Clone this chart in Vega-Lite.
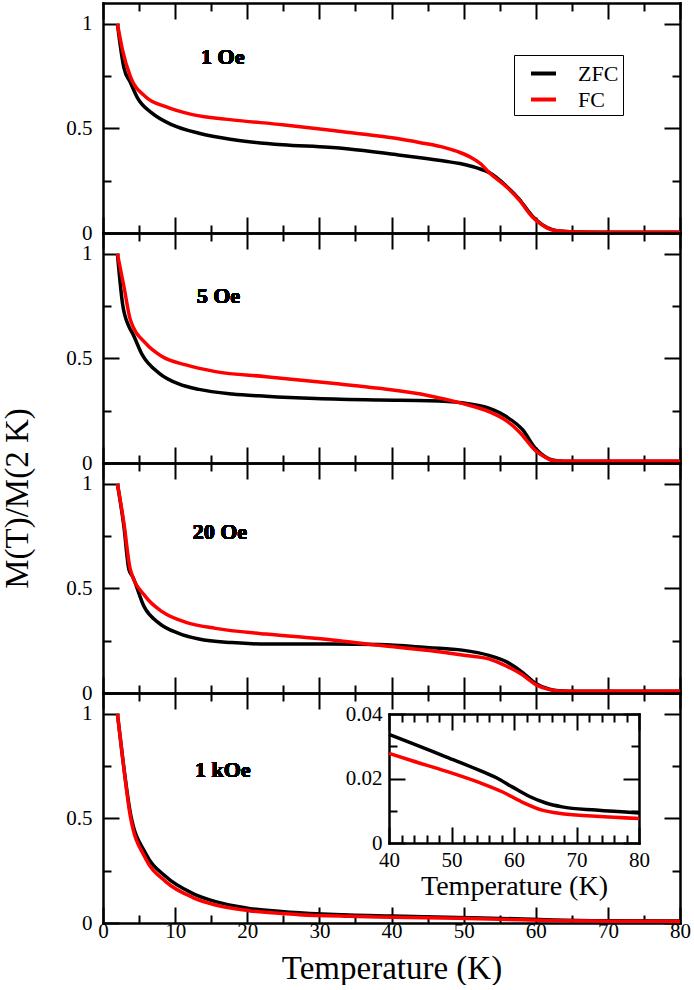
{
  "$schema": "https://vega.github.io/schema/vega-lite/v6.json",
  "padding": {"left": 0, "top": 2, "right": 0, "bottom": 0},
  "datasets": {
    "p1": [
      {"T": 2, "M": 1.0, "s": "ZFC"}, {"T": 2.9, "M": 0.79, "s": "ZFC"}, {"T": 3.8, "M": 0.72, "s": "ZFC"},
      {"T": 4.8, "M": 0.645, "s": "ZFC"}, {"T": 6.8, "M": 0.573, "s": "ZFC"}, {"T": 9.6, "M": 0.517, "s": "ZFC"},
      {"T": 13.3, "M": 0.477, "s": "ZFC"}, {"T": 17.9, "M": 0.447, "s": "ZFC"}, {"T": 24.9, "M": 0.422, "s": "ZFC"},
      {"T": 31.3, "M": 0.41, "s": "ZFC"}, {"T": 34.1, "M": 0.402, "s": "ZFC"}, {"T": 40.6, "M": 0.375, "s": "ZFC"},
      {"T": 44, "M": 0.36, "s": "ZFC"}, {"T": 47.5, "M": 0.343, "s": "ZFC"}, {"T": 49.5, "M": 0.332, "s": "ZFC"},
      {"T": 51.2, "M": 0.318, "s": "ZFC"}, {"T": 52.4, "M": 0.305, "s": "ZFC"}, {"T": 53.5, "M": 0.29, "s": "ZFC"},
      {"T": 55.9, "M": 0.225, "s": "ZFC"}, {"T": 57.7, "M": 0.162, "s": "ZFC"}, {"T": 59.5, "M": 0.082, "s": "ZFC"},
      {"T": 60.9, "M": 0.04, "s": "ZFC"}, {"T": 62.3, "M": 0.016, "s": "ZFC"}, {"T": 63.7, "M": 0.008, "s": "ZFC"},
      {"T": 66, "M": 0.005, "s": "ZFC"}, {"T": 70, "M": 0.004, "s": "ZFC"}, {"T": 80, "M": 0.004, "s": "ZFC"},
      {"T": 2, "M": 1.0, "s": "FC"}, {"T": 2.7, "M": 0.876, "s": "FC"}, {"T": 3.8, "M": 0.748, "s": "FC"},
      {"T": 5.9, "M": 0.652, "s": "FC"}, {"T": 8.7, "M": 0.604, "s": "FC"}, {"T": 12.4, "M": 0.566, "s": "FC"},
      {"T": 17.9, "M": 0.541, "s": "FC"}, {"T": 24.9, "M": 0.518, "s": "FC"}, {"T": 31.3, "M": 0.493, "s": "FC"},
      {"T": 34.1, "M": 0.481, "s": "FC"}, {"T": 40.6, "M": 0.453, "s": "FC"}, {"T": 44, "M": 0.432, "s": "FC"},
      {"T": 47.5, "M": 0.407, "s": "FC"}, {"T": 49.5, "M": 0.385, "s": "FC"}, {"T": 51.2, "M": 0.358, "s": "FC"},
      {"T": 52.4, "M": 0.33, "s": "FC"}, {"T": 53.5, "M": 0.29, "s": "FC"}, {"T": 55.9, "M": 0.222, "s": "FC"},
      {"T": 57.7, "M": 0.158, "s": "FC"}, {"T": 59.5, "M": 0.078, "s": "FC"}, {"T": 60.9, "M": 0.038, "s": "FC"},
      {"T": 62.3, "M": 0.014, "s": "FC"}, {"T": 63.7, "M": 0.008, "s": "FC"}, {"T": 66, "M": 0.005, "s": "FC"},
      {"T": 70, "M": 0.004, "s": "FC"}, {"T": 80, "M": 0.004, "s": "FC"}
    ],
    "p2": [
      {"T": 2, "M": 1.0, "s": "ZFC"}, {"T": 2.7, "M": 0.764, "s": "ZFC"}, {"T": 3.6, "M": 0.652, "s": "ZFC"},
      {"T": 4.1, "M": 0.62, "s": "ZFC"}, {"T": 5.45, "M": 0.517, "s": "ZFC"}, {"T": 7.8, "M": 0.429, "s": "ZFC"},
      {"T": 10.5, "M": 0.378, "s": "ZFC"}, {"T": 13.3, "M": 0.352, "s": "ZFC"}, {"T": 17.9, "M": 0.33, "s": "ZFC"},
      {"T": 22.6, "M": 0.319, "s": "ZFC"}, {"T": 29.5, "M": 0.308, "s": "ZFC"}, {"T": 38.3, "M": 0.301, "s": "ZFC"},
      {"T": 45.2, "M": 0.298, "s": "ZFC"}, {"T": 49.8, "M": 0.288, "s": "ZFC"}, {"T": 53.5, "M": 0.262, "s": "ZFC"},
      {"T": 55.9, "M": 0.222, "s": "ZFC"}, {"T": 58.2, "M": 0.158, "s": "ZFC"}, {"T": 60, "M": 0.068, "s": "ZFC"},
      {"T": 61.3, "M": 0.03, "s": "ZFC"}, {"T": 62.3, "M": 0.014, "s": "ZFC"}, {"T": 64, "M": 0.008, "s": "ZFC"},
      {"T": 80, "M": 0.008, "s": "ZFC"},
      {"T": 2, "M": 1.0, "s": "FC"}, {"T": 2.9, "M": 0.844, "s": "FC"}, {"T": 3.8, "M": 0.684, "s": "FC"},
      {"T": 5.9, "M": 0.573, "s": "FC"}, {"T": 8.2, "M": 0.509, "s": "FC"}, {"T": 11.5, "M": 0.469, "s": "FC"},
      {"T": 15.6, "M": 0.437, "s": "FC"}, {"T": 22.6, "M": 0.413, "s": "FC"}, {"T": 31.8, "M": 0.381, "s": "FC"},
      {"T": 38.3, "M": 0.357, "s": "FC"}, {"T": 45.2, "M": 0.322, "s": "FC"}, {"T": 49.8, "M": 0.285, "s": "FC"},
      {"T": 53.5, "M": 0.246, "s": "FC"}, {"T": 55.9, "M": 0.203, "s": "FC"}, {"T": 57.7, "M": 0.15, "s": "FC"},
      {"T": 60, "M": 0.058, "s": "FC"}, {"T": 61.3, "M": 0.028, "s": "FC"}, {"T": 62.3, "M": 0.012, "s": "FC"},
      {"T": 64, "M": 0.008, "s": "FC"}, {"T": 80, "M": 0.008, "s": "FC"}
    ],
    "p3": [
      {"T": 2, "M": 1.0, "s": "ZFC"}, {"T": 2.9, "M": 0.796, "s": "ZFC"}, {"T": 3.6, "M": 0.589, "s": "ZFC"},
      {"T": 4.1, "M": 0.557, "s": "ZFC"}, {"T": 5.7, "M": 0.413, "s": "ZFC"}, {"T": 7.8, "M": 0.333, "s": "ZFC"},
      {"T": 10.5, "M": 0.285, "s": "ZFC"}, {"T": 13.3, "M": 0.258, "s": "ZFC"}, {"T": 17.9, "M": 0.241, "s": "ZFC"},
      {"T": 22.6, "M": 0.234, "s": "ZFC"}, {"T": 31.8, "M": 0.234, "s": "ZFC"}, {"T": 38.3, "M": 0.232, "s": "ZFC"},
      {"T": 45.2, "M": 0.217, "s": "ZFC"}, {"T": 49.8, "M": 0.205, "s": "ZFC"}, {"T": 53.5, "M": 0.18, "s": "ZFC"},
      {"T": 55.9, "M": 0.15, "s": "ZFC"}, {"T": 58.2, "M": 0.097, "s": "ZFC"}, {"T": 60, "M": 0.046, "s": "ZFC"},
      {"T": 61.9, "M": 0.018, "s": "ZFC"}, {"T": 63.2, "M": 0.011, "s": "ZFC"}, {"T": 66, "M": 0.008, "s": "ZFC"},
      {"T": 80, "M": 0.008, "s": "ZFC"},
      {"T": 2, "M": 1.0, "s": "FC"}, {"T": 2.9, "M": 0.812, "s": "FC"}, {"T": 3.8, "M": 0.589, "s": "FC"},
      {"T": 5.9, "M": 0.461, "s": "FC"}, {"T": 8.2, "M": 0.389, "s": "FC"}, {"T": 11.5, "M": 0.338, "s": "FC"},
      {"T": 15.6, "M": 0.309, "s": "FC"}, {"T": 22.6, "M": 0.282, "s": "FC"}, {"T": 31.8, "M": 0.254, "s": "FC"},
      {"T": 38.3, "M": 0.228, "s": "FC"}, {"T": 45.2, "M": 0.203, "s": "FC"}, {"T": 49.8, "M": 0.182, "s": "FC"},
      {"T": 53.5, "M": 0.163, "s": "FC"}, {"T": 55.9, "M": 0.129, "s": "FC"}, {"T": 58.2, "M": 0.086, "s": "FC"},
      {"T": 60, "M": 0.04, "s": "FC"}, {"T": 61.9, "M": 0.016, "s": "FC"}, {"T": 63.2, "M": 0.01, "s": "FC"},
      {"T": 66, "M": 0.008, "s": "FC"}, {"T": 80, "M": 0.008, "s": "FC"}
    ],
    "p4": [
      {"T": 2, "M": 1.0, "s": "ZFC"}, {"T": 2.7, "M": 0.796, "s": "ZFC"}, {"T": 3.8, "M": 0.525, "s": "ZFC"},
      {"T": 5.9, "M": 0.333, "s": "ZFC"}, {"T": 8.7, "M": 0.222, "s": "ZFC"}, {"T": 12.4, "M": 0.142, "s": "ZFC"},
      {"T": 15.6, "M": 0.102, "s": "ZFC"}, {"T": 20.2, "M": 0.07, "s": "ZFC"}, {"T": 27.2, "M": 0.049, "s": "ZFC"},
      {"T": 34.1, "M": 0.038, "s": "ZFC"}, {"T": 40, "M": 0.0337, "s": "ZFC"}, {"T": 49.1, "M": 0.0267, "s": "ZFC"},
      {"T": 57.1, "M": 0.0203, "s": "ZFC"}, {"T": 62.4, "M": 0.0145, "s": "ZFC"}, {"T": 67.7, "M": 0.0112, "s": "ZFC"},
      {"T": 80, "M": 0.0093, "s": "ZFC"},
      {"T": 2, "M": 1.0, "s": "FC"}, {"T": 2.7, "M": 0.796, "s": "FC"}, {"T": 3.8, "M": 0.509, "s": "FC"},
      {"T": 5.9, "M": 0.309, "s": "FC"}, {"T": 8.7, "M": 0.198, "s": "FC"}, {"T": 12.4, "M": 0.123, "s": "FC"},
      {"T": 15.6, "M": 0.086, "s": "FC"}, {"T": 20.2, "M": 0.059, "s": "FC"}, {"T": 27.2, "M": 0.04, "s": "FC"},
      {"T": 34.1, "M": 0.032, "s": "FC"}, {"T": 40, "M": 0.0278, "s": "FC"}, {"T": 49.1, "M": 0.0223, "s": "FC"},
      {"T": 58.1, "M": 0.0159, "s": "FC"}, {"T": 64.5, "M": 0.0102, "s": "FC"}, {"T": 73.1, "M": 0.0083, "s": "FC"},
      {"T": 80, "M": 0.0076, "s": "FC"}
    ],
    "inset": [
      {"T": 40, "M": 0.0337, "s": "ZFC"}, {"T": 43.7, "M": 0.0309, "s": "ZFC"}, {"T": 49.1, "M": 0.0267, "s": "ZFC"},
      {"T": 54.4, "M": 0.0226, "s": "ZFC"}, {"T": 57.1, "M": 0.0203, "s": "ZFC"}, {"T": 59.7, "M": 0.0174, "s": "ZFC"},
      {"T": 62.4, "M": 0.0145, "s": "ZFC"}, {"T": 65.1, "M": 0.0124, "s": "ZFC"}, {"T": 67.7, "M": 0.0112, "s": "ZFC"},
      {"T": 73.1, "M": 0.0102, "s": "ZFC"}, {"T": 80, "M": 0.0093, "s": "ZFC"},
      {"T": 40, "M": 0.0278, "s": "FC"}, {"T": 43.7, "M": 0.0255, "s": "FC"}, {"T": 49.1, "M": 0.0223, "s": "FC"},
      {"T": 54.4, "M": 0.0188, "s": "FC"}, {"T": 58.1, "M": 0.0159, "s": "FC"}, {"T": 61.3, "M": 0.0127, "s": "FC"},
      {"T": 64.5, "M": 0.0102, "s": "FC"}, {"T": 67.7, "M": 0.0091, "s": "FC"}, {"T": 73.1, "M": 0.0083, "s": "FC"},
      {"T": 80, "M": 0.0076, "s": "FC"}
    ]
  },
  "spacing": 0,
  "bounds": "flush",
  "resolve": {"scale": {"color": "independent"}},
  "vconcat": [
    {
      "width": 577, "height": 230,
      "data": {"name": "p1"},
      "layer": [
        {
          "mark": {"type": "line", "strokeWidth": 3.5, "interpolate": "monotone"},
          "encoding": {
            "x": {"field": "T", "type": "quantitative", "scale": {"domain": [0, 80], "nice": false, "zero": false},
              "axis": {"orient": "bottom", "values": [0, 10, 20, 30, 40, 50, 60, 70, 80], "tickSize": -16, "labels": false, "title": null}},
            "y": {"field": "M", "type": "quantitative", "scale": {"domain": [0, 1.1], "nice": false},
              "axis": {"orient": "left", "values": [0, 0.5, 1], "tickSize": -16, "labelPadding": 27, "format": "~f", "title": null}},
            "color": {"field": "s", "type": "nominal", "scale": {"domain": ["ZFC", "FC"], "range": ["#000000", "#ff0000"]},
              "legend": {"orient": "none", "legendX": 411, "legendY": 52, "title": null, "symbolType": "stroke", "symbolStrokeWidth": 4,
                "symbolSize": 625, "symbolOffset": 11, "labelFontSize": 22, "labelFont": "Liberation Serif", "labelColor": "#000", "labelOffset": 20,
                "strokeColor": "#000", "padding": 4, "rowPadding": 0}}
          }
        },
        {
          "mark": {"type": "point", "opacity": 0},
          "encoding": {
            "x": {"field": "T", "type": "quantitative", "axis": {"orient": "bottom", "values": [5, 15, 25, 35, 45, 55, 65, 75], "tickSize": -8, "labels": false, "domain": false, "title": null}},
            "y": {"field": "M", "type": "quantitative", "axis": {"orient": "left", "values": [0.25, 0.75], "tickSize": -8, "labels": false, "domain": false, "title": null}}
          }
        },
        {
          "mark": {"type": "point", "opacity": 0},
          "encoding": {
            "x": {"field": "T", "type": "quantitative", "axis": {"orient": "top", "values": [0, 10, 20, 30, 40, 50, 60, 70, 80], "tickSize": -16, "labels": false, "title": null}},
            "y": {"field": "M", "type": "quantitative", "axis": {"orient": "right", "values": [0, 0.5, 1], "tickSize": -16, "labels": false, "title": null}}
          }
        },
        {
          "mark": {"type": "point", "opacity": 0},
          "encoding": {
            "x": {"field": "T", "type": "quantitative", "axis": {"orient": "top", "values": [5, 15, 25, 35, 45, 55, 65, 75], "tickSize": -8, "labels": false, "domain": false, "title": null}},
            "y": {"field": "M", "type": "quantitative", "axis": {"orient": "right", "values": [0.25, 0.75], "tickSize": -8, "labels": false, "domain": false, "title": null}}
          }
        },
        {
          "mark": {"type": "text", "fontWeight": "bold", "fontSize": 22, "font": "Liberation Serif", "color": "#000"},
          "encoding": {
            "x": {"datum": 16.6, "type": "quantitative", "axis": null},
            "y": {"datum": 0.84, "type": "quantitative", "axis": null},
            "text": {"value": "1 Oe"}
          }
        }
      ],
      "resolve": {"axis": {"x": "independent", "y": "independent"}}
    },
    {
      "width": 577, "height": 230,
      "data": {"name": "p2"},
      "layer": [
        {
          "mark": {"type": "line", "strokeWidth": 3.5, "interpolate": "monotone"},
          "encoding": {
            "x": {"field": "T", "type": "quantitative", "scale": {"domain": [0, 80], "nice": false, "zero": false},
              "axis": {"orient": "bottom", "values": [0, 10, 20, 30, 40, 50, 60, 70, 80], "tickSize": -16, "labels": false, "title": null}},
            "y": {"field": "M", "type": "quantitative", "scale": {"domain": [0, 1.1], "nice": false},
              "axis": {"orient": "left", "values": [0, 0.5, 1], "tickSize": -16, "labelPadding": 27, "format": "~f", "title": null}},
            "color": {"field": "s", "type": "nominal", "scale": {"domain": ["ZFC", "FC"], "range": ["#000000", "#ff0000"]}, "legend": null}
          }
        },
        {
          "mark": {"type": "point", "opacity": 0},
          "encoding": {
            "x": {"field": "T", "type": "quantitative", "axis": {"orient": "bottom", "values": [5, 15, 25, 35, 45, 55, 65, 75], "tickSize": -8, "labels": false, "domain": false, "title": null}},
            "y": {"field": "M", "type": "quantitative", "axis": {"orient": "left", "values": [0.25, 0.75], "tickSize": -8, "labels": false, "domain": false, "title": null}}
          }
        },
        {
          "mark": {"type": "point", "opacity": 0},
          "encoding": {
            "x": {"field": "T", "type": "quantitative", "axis": {"orient": "top", "values": [0, 10, 20, 30, 40, 50, 60, 70, 80], "tickSize": -16, "labels": false, "title": null}},
            "y": {"field": "M", "type": "quantitative", "axis": {"orient": "right", "values": [0, 0.5, 1], "tickSize": -16, "labels": false, "title": null}}
          }
        },
        {
          "mark": {"type": "point", "opacity": 0},
          "encoding": {
            "x": {"field": "T", "type": "quantitative", "axis": {"orient": "top", "values": [5, 15, 25, 35, 45, 55, 65, 75], "tickSize": -8, "labels": false, "domain": false, "title": null}},
            "y": {"field": "M", "type": "quantitative", "axis": {"orient": "right", "values": [0.25, 0.75], "tickSize": -8, "labels": false, "domain": false, "title": null}}
          }
        },
        {
          "mark": {"type": "text", "fontWeight": "bold", "fontSize": 22, "font": "Liberation Serif", "color": "#000"},
          "encoding": {
            "x": {"datum": 16, "type": "quantitative", "axis": null},
            "y": {"datum": 0.8, "type": "quantitative", "axis": null},
            "text": {"value": "5 Oe"}
          }
        }
      ],
      "resolve": {"axis": {"x": "independent", "y": "independent"}}
    },
    {
      "width": 577, "height": 230,
      "data": {"name": "p3"},
      "layer": [
        {
          "mark": {"type": "line", "strokeWidth": 3.5, "interpolate": "monotone"},
          "encoding": {
            "x": {"field": "T", "type": "quantitative", "scale": {"domain": [0, 80], "nice": false, "zero": false},
              "axis": {"orient": "bottom", "values": [0, 10, 20, 30, 40, 50, 60, 70, 80], "tickSize": -16, "labels": false, "title": null}},
            "y": {"field": "M", "type": "quantitative", "scale": {"domain": [0, 1.1], "nice": false},
              "axis": {"orient": "left", "values": [0, 0.5, 1], "tickSize": -16, "labelPadding": 27, "format": "~f",
                "title": "M(T)/M(2 K)", "titleFontSize": 33, "titleAngle": 270, "titleAlign": "center", "titleBaseline": "middle", "titleX": -86, "titleY": 35}},
            "color": {"field": "s", "type": "nominal", "scale": {"domain": ["ZFC", "FC"], "range": ["#000000", "#ff0000"]}, "legend": null}
          }
        },
        {
          "mark": {"type": "point", "opacity": 0},
          "encoding": {
            "x": {"field": "T", "type": "quantitative", "axis": {"orient": "bottom", "values": [5, 15, 25, 35, 45, 55, 65, 75], "tickSize": -8, "labels": false, "domain": false, "title": null}},
            "y": {"field": "M", "type": "quantitative", "axis": {"orient": "left", "values": [0.25, 0.75], "tickSize": -8, "labels": false, "domain": false, "title": null}}
          }
        },
        {
          "mark": {"type": "point", "opacity": 0},
          "encoding": {
            "x": {"field": "T", "type": "quantitative", "axis": {"orient": "top", "values": [0, 10, 20, 30, 40, 50, 60, 70, 80], "tickSize": -16, "labels": false, "title": null}},
            "y": {"field": "M", "type": "quantitative", "axis": {"orient": "right", "values": [0, 0.5, 1], "tickSize": -16, "labels": false, "title": null}}
          }
        },
        {
          "mark": {"type": "point", "opacity": 0},
          "encoding": {
            "x": {"field": "T", "type": "quantitative", "axis": {"orient": "top", "values": [5, 15, 25, 35, 45, 55, 65, 75], "tickSize": -8, "labels": false, "domain": false, "title": null}},
            "y": {"field": "M", "type": "quantitative", "axis": {"orient": "right", "values": [0.25, 0.75], "tickSize": -8, "labels": false, "domain": false, "title": null}}
          }
        },
        {
          "mark": {"type": "text", "fontWeight": "bold", "fontSize": 22, "font": "Liberation Serif", "color": "#000"},
          "encoding": {
            "x": {"datum": 16.2, "type": "quantitative", "axis": null},
            "y": {"datum": 0.77, "type": "quantitative", "axis": null},
            "text": {"value": "20 Oe"}
          }
        }
      ],
      "resolve": {"axis": {"x": "independent", "y": "independent"}}
    },
    {
      "width": 577, "height": 230,
      "layer": [
        {
          "data": {"name": "p4"},
          "layer": [
            {
              "mark": {"type": "line", "strokeWidth": 3.5, "interpolate": "monotone"},
              "encoding": {
                "x": {"field": "T", "type": "quantitative", "scale": {"domain": [0, 80], "nice": false, "zero": false},
                  "axis": {"orient": "bottom", "values": [0, 10, 20, 30, 40, 50, 60, 70, 80], "tickSize": -16, "labelPadding": 13, "format": "~f",
                    "title": "Temperature (K)", "titleFontSize": 33, "titlePadding": 11}},
                "y": {"field": "M", "type": "quantitative", "scale": {"domain": [0, 1.1], "nice": false},
                  "axis": {"orient": "left", "values": [0, 0.5, 1], "tickSize": -16, "labelPadding": 27, "format": "~f", "title": null}},
                "color": {"field": "s", "type": "nominal", "scale": {"domain": ["ZFC", "FC"], "range": ["#000000", "#ff0000"]}, "legend": null}
              }
            },
            {
              "mark": {"type": "point", "opacity": 0},
              "encoding": {
                "x": {"field": "T", "type": "quantitative", "axis": {"orient": "bottom", "values": [5, 15, 25, 35, 45, 55, 65, 75], "tickSize": -8, "labels": false, "domain": false, "title": null}},
                "y": {"field": "M", "type": "quantitative", "axis": {"orient": "left", "values": [0.25, 0.75], "tickSize": -8, "labels": false, "domain": false, "title": null}}
              }
            },
            {
              "mark": {"type": "point", "opacity": 0},
              "encoding": {
                "x": {"field": "T", "type": "quantitative", "axis": {"orient": "top", "values": [0, 10, 20, 30, 40, 50, 60, 70, 80], "tickSize": -16, "labels": false, "title": null}},
                "y": {"field": "M", "type": "quantitative", "axis": {"orient": "right", "values": [0, 0.5, 1], "tickSize": -16, "labels": false, "title": null}}
              }
            },
            {
              "mark": {"type": "point", "opacity": 0},
              "encoding": {
                "x": {"field": "T", "type": "quantitative", "axis": {"orient": "top", "values": [5, 15, 25, 35, 45, 55, 65, 75], "tickSize": -8, "labels": false, "domain": false, "title": null}},
                "y": {"field": "M", "type": "quantitative", "axis": {"orient": "right", "values": [0.25, 0.75], "tickSize": -8, "labels": false, "domain": false, "title": null}}
              }
            },
            {
              "mark": {"type": "text", "fontWeight": "bold", "fontSize": 22, "font": "Liberation Serif", "color": "#000"},
              "encoding": {
                "x": {"datum": 16.6, "type": "quantitative", "axis": null},
                "y": {"datum": 0.73, "type": "quantitative", "axis": null},
                "text": {"value": "1 kOe"}
              }
            }
          ],
          "resolve": {"axis": {"x": "independent", "y": "independent"}}
        },
        {
          "data": {"name": "inset"},
          "layer": [
            {
              "mark": {"type": "line", "strokeWidth": 3.5, "interpolate": "monotone"},
              "encoding": {
                "x": {"field": "T", "type": "quantitative", "scale": {"domain": [40, 80], "nice": false, "zero": false, "range": [286, 536]},
                  "axis": {"orient": "bottom", "offset": -80, "values": [40, 50, 60, 70, 80], "tickSize": -16, "labelPadding": 22, "format": "~f",
                    "title": "Temperature (K)", "titleFontSize": 28, "titlePadding": 2}},
                "y": {"field": "M", "type": "quantitative", "scale": {"domain": [0, 0.04], "nice": false, "range": [150, 21]},
                  "axis": {"orient": "left", "offset": -286, "values": [0, 0.02, 0.04], "tickSize": -16, "labelPadding": 23, "format": "~f", "title": null}},
                "color": {"field": "s", "type": "nominal", "legend": null}
              }
            },
            {
              "mark": {"type": "point", "opacity": 0},
              "encoding": {
                "x": {"field": "T", "type": "quantitative", "axis": {"orient": "bottom", "offset": -80, "values": [42, 44, 46, 48, 52, 54, 56, 58, 62, 64, 66, 68, 72, 74, 76, 78], "tickSize": -8, "labels": false, "domain": false, "title": null}},
                "y": {"field": "M", "type": "quantitative", "axis": {"orient": "left", "offset": -286, "values": [0.01, 0.03], "tickSize": -8, "labels": false, "domain": false, "title": null}}
              }
            },
            {
              "mark": {"type": "point", "opacity": 0},
              "encoding": {
                "x": {"field": "T", "type": "quantitative", "axis": {"orient": "top", "offset": -21, "values": [40, 50, 60, 70, 80], "tickSize": -16, "labels": false, "title": null}},
                "y": {"field": "M", "type": "quantitative", "axis": {"orient": "right", "offset": -41, "values": [0, 0.02, 0.04], "tickSize": -16, "labels": false, "title": null}}
              }
            },
            {
              "mark": {"type": "point", "opacity": 0},
              "encoding": {
                "x": {"field": "T", "type": "quantitative", "axis": {"orient": "top", "offset": -21, "values": [42, 44, 46, 48, 52, 54, 56, 58, 62, 64, 66, 68, 72, 74, 76, 78], "tickSize": -8, "labels": false, "domain": false, "title": null}},
                "y": {"field": "M", "type": "quantitative", "axis": {"orient": "right", "offset": -41, "values": [0.01, 0.03], "tickSize": -8, "labels": false, "domain": false, "title": null}}
              }
            }
          ],
          "resolve": {"axis": {"x": "independent", "y": "independent"}}
        }
      ],
      "resolve": {"scale": {"x": "independent", "y": "independent"}, "axis": {"x": "independent", "y": "independent"}}
    }
  ],
  "config": {
    "font": "Liberation Serif",
    "view": {"stroke": null},
    "axis": {
      "grid": false, "domainColor": "#000", "tickColor": "#000", "labelColor": "#000", "titleColor": "#000",
      "domainWidth": 2.5, "domainCap": "square", "tickWidth": 2, "labelFontSize": 21, "labelFont": "Liberation Serif",
      "titleFont": "Liberation Serif", "titleFontWeight": "normal", "labelFlush": false
    }
  }
}
